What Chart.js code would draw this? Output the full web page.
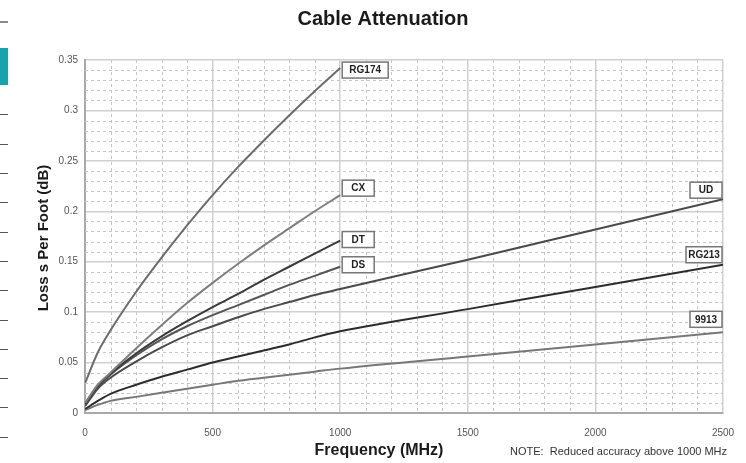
<!DOCTYPE html>
<html>
<head>
<meta charset="utf-8">
<script src="https://cdn.jsdelivr.net/npm/chart.js@4.4.1/dist/chart.umd.min.js"></script>
<style>
  html, body { margin: 0; padding: 0; background: #fff; }
  #wrap { position: relative; width: 746px; height: 463px; overflow: hidden; }
  #attenChart { position: absolute; left: 0; top: 0; }
  .mark { position: absolute; left: 0; width: 8px; }
</style>
</head>
<body>
<div id="wrap">
  <canvas id="attenChart" width="746" height="463"></canvas>
</div>
<script>
// frequencies (MHz)
const freqShort = [1, 50, 100, 200, 300, 400, 500, 600, 700, 800, 900, 1000];
const freqLong = [1, 50, 100, 200, 300, 400, 500, 600, 700, 800, 900, 1000, 1500, 2000, 2500];

// loss per foot (dB)
const rg174 = [0.030, 0.060, 0.082, 0.120, 0.154, 0.186, 0.216, 0.244, 0.270, 0.295, 0.319, 0.342];
const cx    = [0.010, 0.028, 0.040, 0.064, 0.087, 0.109, 0.129, 0.148, 0.166, 0.183, 0.200, 0.216];
const dt    = [0.009, 0.027, 0.039, 0.059, 0.076, 0.091, 0.105, 0.118, 0.132, 0.145, 0.158, 0.171];
const ds    = [0.009, 0.026, 0.038, 0.057, 0.073, 0.086, 0.097, 0.107, 0.117, 0.127, 0.136, 0.145];
const ud    = [0.007, 0.024, 0.035, 0.051, 0.065, 0.077, 0.086, 0.095, 0.103, 0.110, 0.117, 0.123, 0.152, 0.182, 0.212];
const rg213 = [0.004, 0.012, 0.019, 0.028, 0.036, 0.043, 0.050, 0.056, 0.062, 0.068, 0.075, 0.081, 0.103, 0.125, 0.147];
const c9913 = [0.003, 0.008, 0.012, 0.016, 0.020, 0.024, 0.028, 0.032, 0.035, 0.038, 0.041, 0.044, 0.056, 0.068, 0.080];

const yTicks = [0, 0.05, 0.1, 0.15, 0.2, 0.25, 0.3, 0.35];
const xTicks = [0, 500, 1000, 1500, 2000, 2500];

const FONT = "'Liberation Sans', Arial, sans-serif";

// left page bits
const wrap = document.getElementById("wrap");
function mark(top, h, color) {
  const d = document.createElement("div");
  d.className = "mark";
  d.style.top = top + "px";
  d.style.height = h + "px";
  d.style.background = color;
  wrap.appendChild(d);
}
mark(21, 2, "#8a8a8a");
mark(48, 37, "#16a3ac");
[114, 144, 173, 202, 232, 261, 290, 320, 349, 378, 407, 437].forEach(t => mark(t, 1, "#555"));

function pts(xs, ys) {
  return ys.map((v, i) => ({ x: xs[i], y: v }));
}

// series: name, freqs, values, colour, label box placement
const series = [
  { name: "RG174", xs: freqShort, ys: rg174, color: "#6c6c6c", side: "left", dy: 2, w: 46 },
  { name: "CX", xs: freqShort, ys: cx, color: "#7e7e7e", side: "left", dy: -7, w: 32 },
  { name: "DT", xs: freqShort, ys: dt, color: "#3a3a3a", side: "left", dy: -1, w: 32 },
  { name: "DS", xs: freqShort, ys: ds, color: "#555555", side: "left", dy: -2, w: 32 },
  { name: "UD", xs: freqLong, ys: ud, color: "#4a4a4a", side: "right", dy: -1, w: 32 },
  { name: "RG213", xs: freqLong, ys: rg213, color: "#2c2c2c", side: "right", dy: -2, w: 36 },
  { name: "9913", xs: freqLong, ys: c9913, color: "#777777", side: "right", dy: -5, w: 32 }
];

const minorGrid = {
  id: "minorGrid",
  beforeDatasetsDraw(chart) {
    const { ctx, chartArea: a, scales: { x, y } } = chart;
    ctx.save();
    ctx.strokeStyle = "#c6c6c6";
    ctx.lineWidth = 1;
    ctx.setLineDash([3, 3]);
    for (let f = 100; f < 2500; f += 100) {
      if (f % 500 === 0) continue;
      const px = Math.round(x.getPixelForValue(f)) + 0.5;
      ctx.beginPath(); ctx.moveTo(px, a.top); ctx.lineTo(px, a.bottom); ctx.stroke();
    }
    for (let i = 1; i < 35; i++) {
      if (i % 5 === 0) continue;
      const py = Math.round(y.getPixelForValue(i / 100)) + 0.5;
      ctx.beginPath(); ctx.moveTo(a.left, py); ctx.lineTo(a.right, py); ctx.stroke();
    }
    ctx.restore();
  }
};

const endLabels = {
  id: "endLabels",
  afterDatasetsDraw(chart) {
    const ctx = chart.ctx;
    ctx.save();
    ctx.font = "bold 10px " + FONT;
    ctx.textAlign = "center";
    ctx.textBaseline = "middle";
    series.forEach((s, i) => {
      const meta = chart.getDatasetMeta(i);
      const p = meta.data[meta.data.length - 1];
      const w = s.w;
      const h = 16;
      let bx, by;
      if (s.side === "left") {
        bx = p.x + 2;
        by = p.y + s.dy - h / 2;
      } else {
        bx = p.x - w - 1;
        by = p.y + s.dy - h;
      }
      ctx.fillStyle = "#fff";
      ctx.fillRect(bx, by, w, h);
      ctx.strokeStyle = "#777";
      ctx.lineWidth = 1.5;
      ctx.strokeRect(bx, by, w, h);
      ctx.fillStyle = "#222";
      ctx.fillText(s.name, bx + w / 2, by + h / 2 + 0.5);
    });
    ctx.restore();
  }
};

const axisText = {
  id: "axisText",
  afterDraw(chart) {
    const { ctx } = chart;
    ctx.save();
    ctx.fillStyle = "#1a1a1a";
    ctx.font = "bold 16px " + FONT;
    ctx.textAlign = "center";
    ctx.textBaseline = "middle";
    ctx.fillText("Frequency (MHz)", 379, 451);
    ctx.font = "11px " + FONT;
    ctx.textAlign = "left";
    ctx.fillStyle = "#333";
    ctx.fillText("NOTE:  Reduced accuracy above 1000 MHz", 510, 452);
    ctx.translate(44, 238);
    ctx.rotate(-Math.PI / 2);
    ctx.font = "bold 15px " + FONT;
    ctx.textAlign = "center";
    ctx.fillStyle = "#1a1a1a";
    ctx.fillText("Loss s Per Foot (dB)", 0, 0);
    ctx.restore();
  }
};

new Chart(document.getElementById("attenChart"), {
  type: "line",
  data: {
    datasets: series.map(s => ({
      label: s.name,
      data: pts(s.xs, s.ys),
      borderColor: s.color,
      borderWidth: 2,
      pointRadius: 0,
      fill: false,
      cubicInterpolationMode: "monotone"
    }))
  },
  options: {
    responsive: false,
    animation: false,
    layout: { padding: { left: 43, right: 23, top: 0, bottom: 0 } },
    plugins: {
      legend: { display: false },
      tooltip: { enabled: false },
      title: {
        display: true,
        text: "Cable Attenuation",
        color: "#1a1a1a",
        font: { family: FONT, size: 20, weight: "bold" },
        padding: { top: 7, bottom: 29 }
      }
    },
    scales: {
      x: {
        type: "linear",
        min: 0,
        max: 2500,
        afterFit: s => { s.height = 50; s.paddingRight = 0; s.paddingLeft = 0; },
        afterBuildTicks: s => { s.ticks = xTicks.map(v => ({ value: v })); },
        ticks: {
          color: "#555",
          font: { family: FONT, size: 10 },
          padding: 14,
          maxRotation: 0,
          callback: v => String(v)
        },
        grid: { color: "#d0d0d0", lineWidth: 1.5, drawTicks: false },
        border: { color: "#a9a9a9", width: 2 }
      },
      y: {
        type: "linear",
        min: 0,
        max: 0.35,
        afterFit: s => { s.width = 42; },
        afterBuildTicks: s => { s.ticks = yTicks.map(v => ({ value: v })); },
        ticks: {
          color: "#555",
          font: { family: FONT, size: 10 },
          padding: 7,
          callback: v => String(+v.toFixed(2))
        },
        grid: { color: "#d0d0d0", lineWidth: 1.5, drawTicks: false },
        border: { color: "#a9a9a9", width: 2 }
      }
    }
  },
  plugins: [minorGrid, endLabels, axisText]
});
</script>
</body>
</html>
